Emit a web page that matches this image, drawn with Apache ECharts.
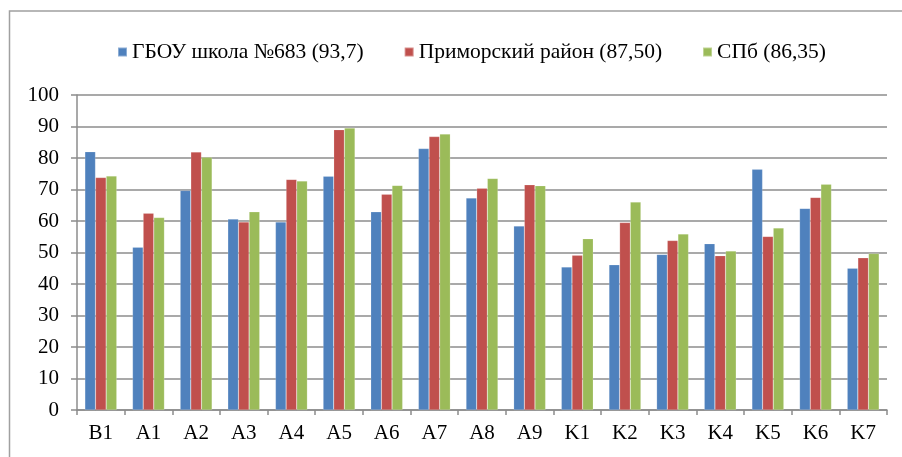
<!DOCTYPE html>
<html>
<head>
<meta charset="utf-8">
<script src="https://cdn.jsdelivr.net/npm/echarts@6/dist/echarts.min.js"></script>
<style>
  html, body { margin: 0; padding: 0; background: #fff; }
  #chart { width: 902px; height: 457px; }
</style>
</head>
<body>
<div id="chart"></div>
<script>
const categories = ['B1', 'A1', 'A2', 'A3', 'A4', 'A5', 'A6', 'A7', 'A8', 'A9', 'K1', 'K2', 'K3', 'K4', 'K5', 'K6', 'K7']
const seriesNames = ['ГБОУ школа №683 (93,7)', 'Приморский район (87,50)', 'СПб (86,35)']
const school = [82.0, 51.7, 69.7, 60.6, 59.7, 74.2, 62.9, 83.0, 67.3, 58.4, 45.4, 46.1, 49.4, 52.8, 76.4, 64.0, 45.0]
const district = [73.8, 62.5, 81.9, 59.7, 73.2, 89.0, 68.5, 86.8, 70.4, 71.5, 49.1, 59.5, 53.8, 49.0, 55.1, 67.5, 48.3]
const city = [74.3, 61.1, 80.2, 62.9, 72.7, 89.5, 71.3, 87.6, 73.5, 71.2, 54.4, 66.0, 55.9, 50.5, 57.8, 71.7, 49.7]
const colors = ['#4f81bd', '#c0504d', '#9bbb59']

const font = "'Liberation Serif', 'DejaVu Serif', serif"
const gridColor = '#8c8c8c'

const chart = echarts.init(document.getElementById('chart'))

const makeBar = (name, data) => ({
  name: name,
  type: 'bar',
  data: data,
  barGap: '0%',
  barCategoryGap: '33%',
  itemStyle: { borderColor: 'rgba(255,255,255,0.35)', borderWidth: 0.5 }
})

chart.setOption({
  animation: false,
  color: colors,
  textStyle: { fontFamily: font },
  graphic: [
    {
      type: 'rect',
      shape: { x: 9.5, y: 11, width: 1000, height: 1000 },
      style: { fill: 'none', stroke: '#a0a0a0', lineWidth: 1.5 },
      silent: true
    }
  ],
  legend: {
    left: 112,
    top: 36,
    itemWidth: 9,
    itemHeight: 9,
    itemGap: 40,
    icon: 'rect',
    textStyle: { fontFamily: font, fontSize: 21.5, color: '#000' },
    data: seriesNames
  },
  grid: { left: 77, right: 15, top: 95, bottom: 47 },
  xAxis: {
    type: 'category',
    data: categories,
    axisLine: { lineStyle: { color: gridColor, width: 1.5 } },
    axisTick: { show: true, length: 5, lineStyle: { color: gridColor, width: 1.5 } },
    axisLabel: { fontFamily: font, fontSize: 21, color: '#000', margin: 13 }
  },
  yAxis: {
    type: 'value',
    min: 0,
    max: 100,
    interval: 10,
    axisLine: { show: true, lineStyle: { color: gridColor, width: 1.5 } },
    axisTick: { show: true, length: 6, lineStyle: { color: gridColor, width: 1.5 } },
    axisLabel: { fontFamily: font, fontSize: 21, color: '#000', margin: 18 },
    splitLine: { lineStyle: { color: gridColor, width: 1.5 } }
  },
  series: [
    makeBar(seriesNames[0], school),
    makeBar(seriesNames[1], district),
    makeBar(seriesNames[2], city)
  ]
})
</script>
</body>
</html>
